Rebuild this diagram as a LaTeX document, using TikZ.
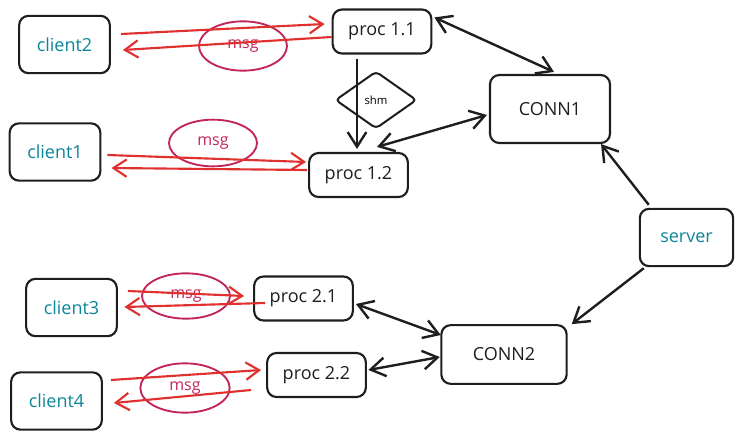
\documentclass[tikz,border=0pt]{standalone}
\usepackage{fontspec}
\setmainfont{Open Sans}
\usetikzlibrary{arrows.meta,shapes.geometric}

\definecolor{inkblack}{RGB}{30,30,30}
\definecolor{msgred}{RGB}{224,49,49}
\definecolor{msgpink}{RGB}{194,37,92}
\definecolor{clientteal}{RGB}{12,133,153}

\tikzset{
  box/.style={draw=inkblack,line width=1.6pt,rounded corners=7pt,align=center,font=\fontsize{13.5}{15}\selectfont},
  clientbox/.style={box,text=clientteal,minimum width=68pt,minimum height=43pt},
  procbox/.style={box,text=inkblack,minimum width=74pt,minimum height=33pt},
  connbox/.style={box,text=inkblack},
  msgblob/.style={draw=msgpink,line width=1.4pt,ellipse,text=msgpink,inner sep=0pt,font=\fontsize{12}{14}\selectfont},
  msgline/.style={draw=msgred,line width=1.6pt,-{Straight Barb[length=10pt,width=13pt]}},
  link/.style={draw=inkblack,line width=1.8pt,-{Straight Barb[length=11pt,width=14pt]}},
  biglink/.style={link,{Straight Barb[length=11pt,width=14pt]}-{Straight Barb[length=11pt,width=14pt]}}
}

\begin{document}
\begin{tikzpicture}[x=0.75pt,y=0.75pt,yscale=-1]
\path[use as bounding box] (0,0) rectangle (743,439);

%Shape: Rectangle
\node[clientbox] (c2) at (64.5,44.5) {client2};
\node[clientbox] (c1) at (55,152) {client1};
\node[clientbox] (c3) at (71.5,307.5) {client3};
\node[clientbox] (c4) at (56.5,401) {client4};
\node[clientbox,minimum width=70pt] (srv) at (686.5,237.5) {server};
%Shape: Rectangle
\node[procbox] (p11) at (382,31.5) {proc 1.1};
\node[procbox] (p12) at (358.5,175) {proc 1.2};
\node[procbox] (p21) at (303.5,298.5) {proc 2.1};
\node[procbox] (p22) at (316.5,375) {proc 2.2};
%Shape: Rectangle
\node[connbox,minimum width=90pt,minimum height=51pt] (conn1) at (550,109) {CONN1};
\node[connbox,minimum width=94pt,minimum height=44pt] (conn2) at (504,354.5) {CONN2};

%Shape: Diamond
\node[draw=inkblack,line width=1.5pt,diamond,rounded corners=3pt,minimum width=61pt,minimum height=43pt,inner sep=0pt,font=\fontsize{8.5}{10}\selectfont] (shm) at (376,100) {shm};

%Shape: Ellipse
\node[msgblob,minimum width=66pt,minimum height=37pt] (m2) at (243,46) {msg};
\node[msgblob,minimum width=66pt,minimum height=35pt] (m1) at (213,143) {msg};
\node[msgblob,minimum width=66pt,minimum height=34pt] (m3) at (186,296) {msg};
\node[msgblob,minimum width=67pt,minimum height=37pt] (m4) at (185,388) {msg};

%Straight Lines
\draw[msgline] ([shift={(10,-10.5)}]c2.east) -- ([shift={(-7,-7.5)}]p11.west);
\draw[msgline] ([shift={(0,5.5)}]p11.west) -- ([shift={(12,5.5)}]c2.east);
\draw[msgline] ([shift={(6,3)}]c1.east) -- ([shift={(-2,-13)}]p12.west);
\draw[msgline] ([shift={(-1,-5)}]p12.west) -- ([shift={(10,16)}]c1.east);
\draw[msgline] ([shift={(10,-16.5)}]c3.east) -- ([shift={(-9,-2.5)}]p21.west);
\draw[msgline] ([shift={(12,4.5)}]p21.west) -- ([shift={(6.5,-0.5)}]c3.east);
\draw[msgline] ([shift={(8,-21)}]c4.east) -- ([shift={(-5,-5)}]p22.west);
\draw[msgline] ([shift={(-15,15)}]p22.west) -- ([shift={(11,2)}]c4.east);

%Straight Lines
\draw[link] ([shift={(-25,4)}]p11.south) -- ([shift={(-1.5,-3)}]p12.north);
\draw[biglink] ([shift={(2,9)}]p11.north east) -- ([shift={(4,-2)}]conn1.north);
\draw[biglink] ([shift={(18.5,-5)}]p12.north) -- ([shift={(-2,6)}]conn1.west);
\draw[link] ([shift={(10,-3)}]srv.north west) -- ([shift={(-10,0)}]conn1.south east);
\draw[link] ([shift={(5,1)}]srv.south west) -- ([shift={(4,0)}]conn2.north east);
\draw[biglink] ([shift={(2,5.5)}]p21.east) -- ([shift={(0.5,-19.5)}]conn2.west);
\draw[biglink] ([shift={(1.5,-5)}]p22.east) -- ([shift={(-0.5,2.5)}]conn2.west);

\end{tikzpicture}
\end{document}
